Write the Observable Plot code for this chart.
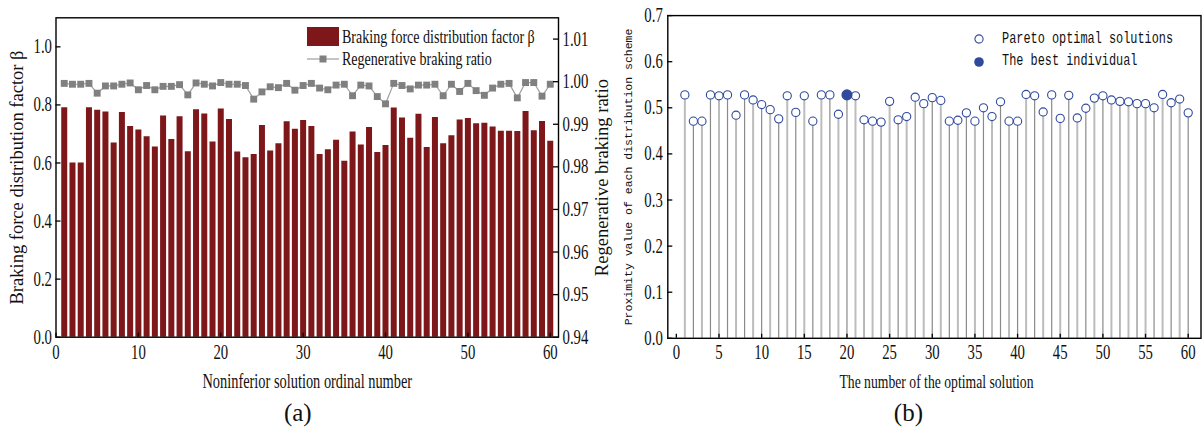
<!DOCTYPE html>
<html><head><meta charset="utf-8">
<script src="https://cdn.jsdelivr.net/npm/d3@7"></script>
<script src="https://cdn.jsdelivr.net/npm/@observablehq/plot@0.6"></script>
<style>
body{margin:0;background:#fff;}
#wrap{position:relative;width:1202px;height:430px;overflow:hidden;background:#fff;}
#wrap svg.plt{position:absolute;left:0;top:0;}
.lg{position:absolute;white-space:nowrap;transform-origin:0 50%;transform:scaleX(0.72);color:#111;}
.lgsw{position:absolute;}
</style></head><body><div id="wrap"></div>
<script>
// ---------------- data ----------------
const ordinal = [1,2,3,4,5,6,7,8,9,10,11,12,13,14,15,16,17,18,19,20,21,22,23,24,25,26,27,28,29,30,
  31,32,33,34,35,36,37,38,39,40,41,42,43,44,45,46,47,48,49,50,51,52,53,54,55,56,57,58,59,60];
const beta = [0.790,0.600,0.600,0.790,0.782,0.776,0.669,0.774,0.726,0.714,
  0.690,0.655,0.762,0.681,0.759,0.639,0.783,0.769,0.672,0.786,
  0.750,0.638,0.618,0.629,0.729,0.641,0.666,0.742,0.716,0.746,
  0.726,0.629,0.646,0.678,0.606,0.707,0.662,0.722,0.636,0.660,
  0.789,0.755,0.685,0.768,0.653,0.757,0.666,0.694,0.748,0.753,
  0.735,0.737,0.724,0.709,0.709,0.708,0.777,0.711,0.743,0.675];
const regenRatio = [0.9996,0.9994,0.9994,0.9996,0.9973,0.9990,0.9990,0.9994,0.9997,0.9981,
  0.9991,0.9981,0.9989,0.9989,0.9993,0.9969,0.9997,0.9994,0.9990,0.9998,
  0.9994,0.9994,0.9991,0.9959,0.9976,0.9988,0.9986,0.9996,0.9980,0.9991,
  0.9996,0.9985,0.9981,0.9992,0.9994,0.9967,0.9992,0.9990,0.9965,0.9948,
  0.9996,0.9991,0.9983,0.9992,0.9992,0.9994,0.9967,0.9994,0.9977,0.9996,
  0.9979,0.9968,0.9985,0.9994,0.9996,0.9962,0.9998,0.9998,0.9966,0.9994];
const proximity = [0.528,0.471,0.471,0.528,0.526,0.528,0.484,0.528,0.517,0.507,
  0.496,0.476,0.526,0.490,0.526,0.471,0.528,0.528,0.486,0.528,
  0.526,0.474,0.471,0.469,0.514,0.474,0.481,0.523,0.509,0.522,
  0.516,0.471,0.473,0.489,0.471,0.500,0.481,0.513,0.471,0.471,
  0.529,0.526,0.491,0.528,0.477,0.527,0.478,0.499,0.521,0.526,
  0.517,0.514,0.513,0.509,0.509,0.500,0.529,0.511,0.519,0.489];
const bestIndividual = 20;
const leftTicks = [0.0,0.2,0.4,0.6,0.8,1.0];
const rightTicks = [0.94,0.95,0.96,0.97,0.98,0.99,1.00,1.01];
const xTicksA = [0,10,20,30,40,50,60];
const xTicksB = [0,5,10,15,20,25,30,35,40,45,50,55,60];
const proxTicks = [0.0,0.1,0.2,0.3,0.4,0.5,0.6,0.7];
const labels = {
  yA: "Braking force distribution factor \u03b2",
  yA2: "Regenerative braking ratio",
  xA: "Noninferior solution ordinal number",
  yB: "Proximity value of each distribution scheme",
  xB: "The number of the optimal solution",
  capA: "(a)", capB: "(b)",
  legBar: "Braking force distribution factor \u03b2",
  legLine: "Regenerative braking ratio",
  legOpen: "Pareto optimal solutions",
  legBest: "The best individual"
};
// ---------------- layout ----------------
const W = 1202, H = 430;
const serif = "'Liberation Serif','Times New Roman',serif";
const mono = "'Liberation Mono','DejaVu Sans Mono',monospace";
const A = {left:55.5, right:558, top:17.3, bottom:336.7};
const B = {left:667.3, right:1200.5, top:15.1, bottom:337.8};
const frameA = {width:W, height:H, marginLeft:A.left, marginRight:W-A.right, marginTop:A.top, marginBottom:H-A.bottom};
const frameB = {width:W, height:H, marginLeft:B.left, marginRight:W-B.right, marginTop:B.top, marginBottom:H-B.bottom};
const style = {background:"transparent", overflow:"visible", fontFamily:serif, color:"#111"};
const dataA = ordinal.map((n,i)=>({n, beta:beta[i], ratio:regenRatio[i]}));
const dataB = ordinal.map((n,i)=>({n, prox:proximity[i]}));
const BAR = "#7d1719", BLUE = "#2f4a9c";
const T = (extra)=>({text:d=>d, textAnchor:"middle", lineAnchor:"middle", fill:"#111", fontFamily:serif, ...extra});

const plotA = Plot.plot({
  ...frameA, style,
  x:{domain:[0,61]}, y:{domain:[0,1.1]},
  marks:[
    Plot.ruleX(dataA,{x:"n", y1:0, y2:"beta", stroke:BAR, strokeWidth:6}),
    Plot.tickY(leftTicks,{y:d=>d, insetRight:(A.right-A.left)-5, stroke:"#000", strokeWidth:1.3}),
    Plot.tickX(xTicksA,{x:d=>d, insetTop:(A.bottom-A.top)-4, stroke:"#000", strokeWidth:1.3}),
    Plot.axisY(leftTicks,{anchor:"left", tickSize:0, tickPadding:4, tickFormat:d3.format(".1f"), fontSize:20.5, fontFamily:serif, label:null}),
    Plot.axisX(xTicksA,{anchor:"bottom", tickSize:0, tickPadding:7, tickFormat:d3.format("d"), fontSize:20.5, fontFamily:serif, label:null}),
    Plot.frame({stroke:"#000", strokeWidth:1.4}),
    Plot.text([labels.xA], T({frameAnchor:"bottom", dy:44.5, fontSize:20})),
    Plot.text([labels.capA], T({frameAnchor:"bottom", dx:-9.5, dy:75.5, fontSize:25})),
    Plot.text([labels.yA], T({frameAnchor:"left", dx:-38.5, rotate:-90, fontSize:18.5}))
  ]
});

const plotA2 = Plot.plot({
  ...frameA, style,
  x:{domain:[0,61], axis:null}, y:{domain:[0.94,1.015]},
  marks:[
    Plot.line(dataA,{x:"n", y:"ratio", stroke:"#9e9e9e", strokeWidth:1.2}),
    Plot.dot(dataA,{x:"n", y:"ratio", symbol:"square", r:3.9, fill:"#808080"}),
    Plot.tickY(rightTicks,{y:d=>d, insetLeft:(A.right-A.left)-5, stroke:"#000", strokeWidth:1.3}),
    Plot.axisY(rightTicks,{anchor:"right", tickSize:0, tickPadding:4, tickFormat:d3.format(".2f"), fontSize:20.5, fontFamily:serif, label:null}),
    Plot.text([labels.yA2], T({frameAnchor:"right", dx:43.5, rotate:-90, fontSize:18.5}))
  ]
});

const others = dataB.filter(d=>d.n!==bestIndividual);
const best = dataB.filter(d=>d.n===bestIndividual);
const plotB = Plot.plot({
  ...frameB, style,
  x:{domain:[-1,61.5]}, y:{domain:[0,0.7]},
  marks:[
    Plot.ruleX(dataB.filter(d=>d.n%2===1),{x:"n", y1:0, y2:"prox", stroke:"#bcbcbc", strokeWidth:2}),
    Plot.ruleX(dataB.filter(d=>d.n%2===0),{x:"n", y1:0, y2:"prox", stroke:"#8a8a8a", strokeWidth:1.2}),
    Plot.dot(others,{x:"n", y:"prox", r:4.1, stroke:BLUE, fill:"white", strokeWidth:1.1}),
    Plot.dot(best,{x:"n", y:"prox", r:4.8, stroke:BLUE, fill:BLUE}),
    Plot.tickY(proxTicks,{y:d=>d, insetRight:(B.right-B.left)-5, stroke:"#000", strokeWidth:1.3}),
    Plot.tickX(xTicksB,{x:d=>d, insetTop:(B.bottom-B.top)-4, stroke:"#000", strokeWidth:1.3}),
    Plot.axisY(proxTicks,{anchor:"left", tickSize:0, tickPadding:5, tickFormat:d3.format(".1f"), fontSize:20.5, fontFamily:serif, label:null}),
    Plot.axisX(xTicksB,{anchor:"bottom", tickSize:0, tickPadding:6, tickFormat:d3.format("d"), fontSize:20.5, fontFamily:serif, label:null}),
    Plot.frame({stroke:"#000", strokeWidth:1.4}),
    Plot.text([labels.xB], T({frameAnchor:"bottom", dx:2, dy:43.5, fontSize:19})),
    Plot.text([labels.capB], T({frameAnchor:"bottom", dx:-26, dy:74.5, fontSize:25})),
    Plot.text([labels.yB], T({frameAnchor:"left", dx:-39, rotate:-90, fontSize:11.5, fontFamily:mono}))
  ]
});

const wrap = document.getElementById("wrap");
for (const p of [plotA, plotA2, plotB]) { p.classList.add("plt"); wrap.appendChild(p); }

// horizontal squeeze of upright text (the reference's type is narrow)
function squeeze(svg, s){
  svg.querySelectorAll("text").forEach(t=>{
    const tr = t.getAttribute("transform") || "";
    if (tr.includes("rotate")) return;
    if (/^\([ab]\)$/.test(t.textContent.trim())) return;
    const b = t.getBBox();
    const a = getComputedStyle(t).textAnchor;
    const ax = a==="middle" ? b.x + b.width/2 : a==="end" ? b.x + b.width : b.x;
    t.setAttribute("transform", `${tr} translate(${ax},0) scale(${s},1) translate(${-ax},0)`);
  });
}
[plotA, plotA2, plotB].forEach(p=>squeeze(p, 0.72));

// legends
function add(html){ const d=document.createElement("div"); d.innerHTML=html; wrap.appendChild(d.firstElementChild); }
add(`<div class="lgsw" style="left:307px;top:27px;width:32px;height:19px;background:${BAR}"></div>`);
add(`<div class="lg" style="left:342px;top:26px;height:22px;line-height:22px;font:19.5px ${serif}">${labels.legBar}</div>`);
add(`<svg class="lgsw" style="left:307px;top:52px" width="34" height="14"><line x1="0" x2="32" y1="7" y2="7" stroke="#9e9e9e" stroke-width="1.2"/><rect x="12.5" y="3.5" width="7" height="7" fill="#808080"/></svg>`);
add(`<div class="lg" style="left:342px;top:48px;height:22px;line-height:22px;font:19.5px ${serif}">${labels.legLine}</div>`);
add(`<svg class="lgsw" style="left:970px;top:30px" width="20" height="42"><circle cx="9" cy="9" r="4.1" fill="white" stroke="${BLUE}" stroke-width="1.1"/><circle cx="9" cy="32" r="4.8" fill="${BLUE}"/></svg>`);
add(`<div class="lg" style="left:1002px;top:29px;height:22px;line-height:22px;font:16.5px ${mono}">${labels.legOpen}</div>`);
add(`<div class="lg" style="left:1002px;top:51px;height:22px;line-height:22px;font:16.5px ${mono}">${labels.legBest}</div>`);
</script></body></html>
